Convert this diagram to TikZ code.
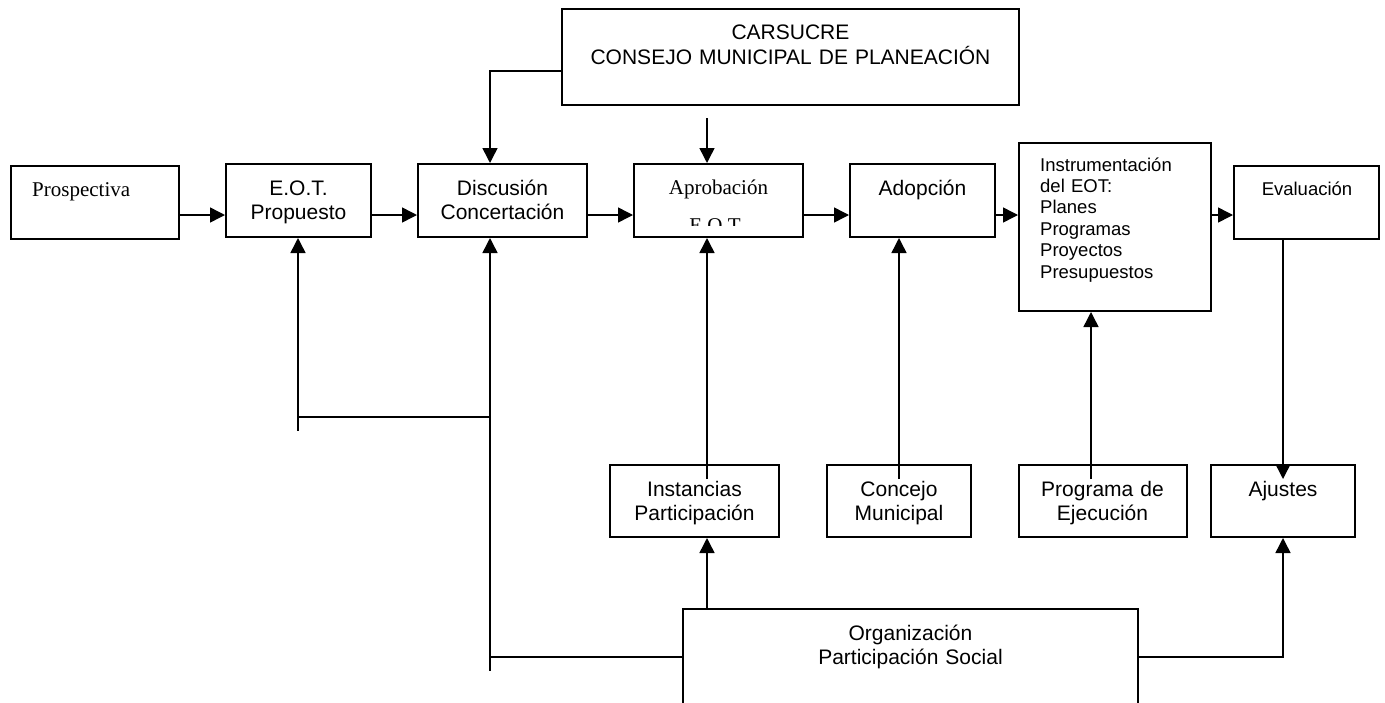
\documentclass[tikz,border=0pt]{standalone}
\usepackage{fontspec}
\setmainfont{Liberation Sans}
\newfontfamily\tmsfont{Liberation Serif}
\usetikzlibrary{arrows.meta}
\newcommand\fsbig{\fontsize{21}{24}\selectfont}
\newcommand\fssmall{\fontsize{18.5}{21.4}\selectfont}
\begin{document}
\begin{tikzpicture}[x=1pt,y=-1pt,
  box/.style={draw,line width=2pt,inner sep=0pt,rectangle},
  txt/.style={inner sep=0pt,font=\fsbig,align=center,anchor=base},
  con/.style={line width=1.5pt},
  arr/.style={con,-{Triangle[length=15pt,width=15pt]}}]
\clip (0,0) rectangle (1385,702);
\fill[white] (0,0) rectangle (1385,702);

% boxes
\node[box,minimum width=168pt,minimum height=73pt] (prosp) at (95,202.5) {};
\node[box,minimum width=145pt,minimum height=73pt] (eot) at (298.5,200.5) {};
\node[box,minimum width=169pt,minimum height=73pt] (disc) at (502.5,200.5) {};
\node[box,minimum width=169pt,minimum height=73pt] (aprob) at (718.5,200.5) {};
\node[box,minimum width=145pt,minimum height=73pt] (adop) at (922.5,200.5) {};
\node[box,minimum width=192pt,minimum height=168pt] (instr) at (1115,227) {};
\node[box,minimum width=145pt,minimum height=73pt] (eval) at (1306.5,202.5) {};
\node[box,minimum width=457pt,minimum height=96pt] (cars) at (790.5,57) {};
\node[box,minimum width=169pt,minimum height=72pt] (inst) at (694.5,501) {};
\node[box,minimum width=144pt,minimum height=72pt] (conc) at (899,501) {};
\node[box,minimum width=168pt,minimum height=72pt] (prog) at (1103,501) {};
\node[box,minimum width=144pt,minimum height=72pt] (ajus) at (1283,501) {};
\node[box,minimum width=455pt,minimum height=171pt] (org) at (910.5,694.5) {};

% texts
\node[txt,anchor=base west,font=\fsbig\tmsfont] (prospt) at (32,196) {Prospectiva};
\node[txt,text width=160pt] (eott) at (298.5,195) {E.O.T.\\Propuesto};
\node[txt,text width=165pt] (disct) at (502.5,195) {Discusión\\Concertación};
\node[txt,font=\fsbig\tmsfont] (aprobt) at (718.5,194.5) {Aprobación};
\begin{scope}
  \clip (634,164) rectangle (803,225.5);
  \node[txt,font=\fsbig\tmsfont] (eotclip) at (715,232) {E.O.T};
\end{scope}
\node[txt] (adopt) at (922.5,195) {Adopción};
\node[txt,anchor=base west,font=\fssmall,align=left,text width=170pt] (instrt) at (1040,171)
  {Instrumentación\\del EOT:\\Planes\\Programas\\Proyectos\\Presupuestos};
\node[txt,font=\fssmall] (evalt) at (1307,195) {Evaluación};
\node[txt,text width=440pt,font=\fontsize{21}{25}\selectfont] (carst) at (790.5,39) {CARSUCRE\\CONSEJO MUNICIPAL DE PLANEACIÓN};
\node[txt,text width=165pt] (instt) at (694.5,496) {Instancias\\Participación};
\node[txt,text width=140pt] (conct) at (899,496) {Concejo\\Municipal};
\node[txt,text width=165pt] (progt) at (1102.5,496) {Programa de\\Ejecución};
\node[txt] (ajust) at (1283,496) {Ajustes};
\node[txt,text width=300pt] (orgt) at (910.5,640) {Organización\\Participación Social};

% helper coordinates
\coordinate (row) at (0,215);
\coordinate (colE) at (298,0);
\coordinate (colD) at (490,0);
\coordinate (colA) at (707,0);
\coordinate (colC) at (899,0);
\coordinate (colP) at (1091,0);
\coordinate (colJ) at (1283,0);
\coordinate (yC) at (0,71);
\coordinate (aTop) at (707,118);
\coordinate (yIn) at (0,479);
\coordinate (yB) at (0,417);
\coordinate (yO) at (0,657);
\coordinate (stubE) at (298,431);
\coordinate (stubD) at (490,671);

% main row
\draw[arr] (prosp.east |- row) -- (eot.west |- row);
\draw[arr] (eot.east |- row) -- (disc.west |- row);
\draw[arr] (disc.east |- row) -- (aprob.west |- row);
\draw[arr] (aprob.east |- row) -- (adop.west |- row);
\draw[arr] (adop.east |- row) -- (instr.west |- row);
\draw[arr] (instr.east |- row) -- (eval.west |- row);

% from CARSUCRE
\draw[arr] (cars.west |- yC) -| (disc.north -| colD);
\draw[arr] (aTop) -- (aprob.north -| colA);

% from lower boxes
\draw[arr] (colA |- yIn) -- (aprob.south -| colA);
\draw[arr] (colC |- yIn) -- (adop.south -| colC);
\draw[arr] (colP |- yIn) -- (instr.south -| colP);
\draw[arr] (eval.south -| colJ) -- (colJ |- yIn);

% from Organizacion
\draw[arr] (org.north -| colA) -- (inst.south -| colA);
\draw[arr] (org.east |- yO) -| (ajus.south -| colJ);
\draw[arr] (org.west |- yO) -| (disc.south -| colD);
\draw[arr] (colD |- yB) -| (eot.south -| colE);
\draw[con] (colE |- yB) -- (stubE);
\draw[con] (colD |- yO) -- (stubD);
\end{tikzpicture}
\end{document}
